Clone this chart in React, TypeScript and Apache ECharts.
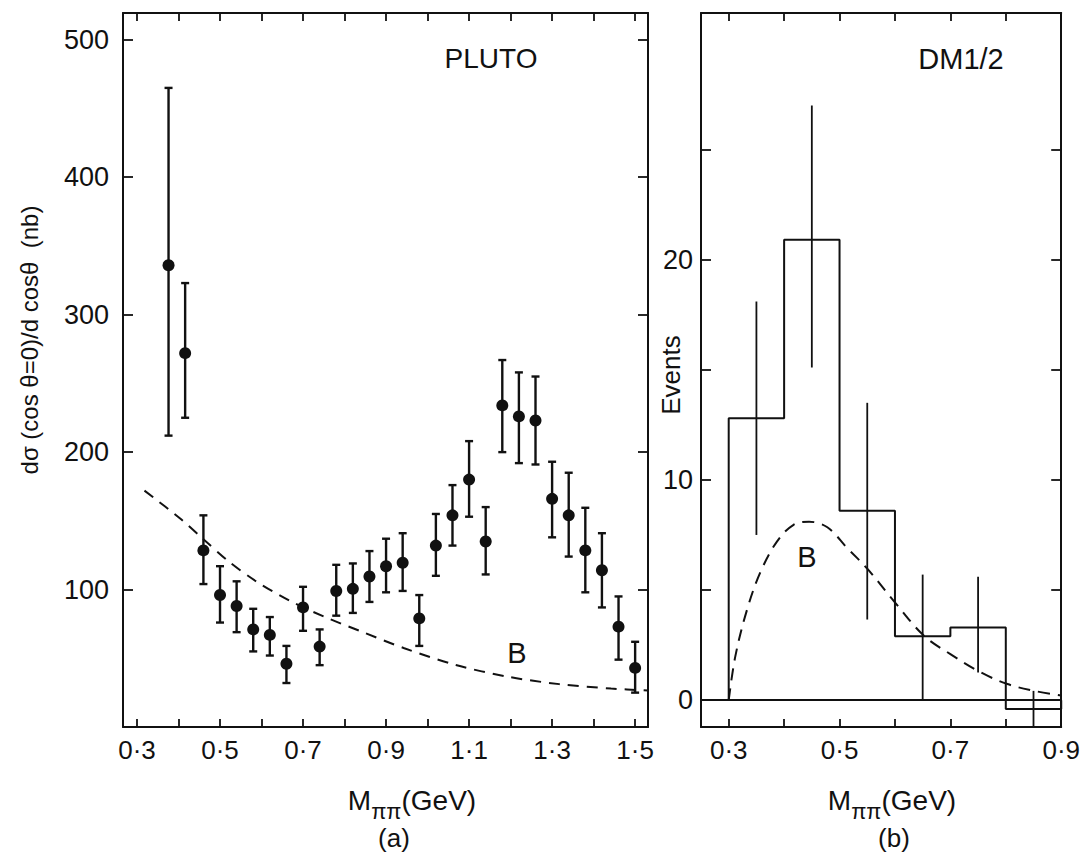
import React, { useEffect, useRef } from "react";
import * as echarts from "echarts";

// ---------- Data ----------
// Panel (a): PLUTO
const plutoMass = [0.376, 0.416, 0.46, 0.5, 0.54, 0.58, 0.62, 0.66, 0.7, 0.74, 0.78, 0.82, 0.86, 0.9, 0.94, 0.98, 1.02, 1.06, 1.1, 1.14, 1.18, 1.22, 1.26, 1.3, 1.34, 1.38, 1.42, 1.46, 1.5];
const plutoValue = [336, 272, 128.5, 96, 88, 71, 67, 46, 87, 58.5, 99, 100.5, 109.5, 117, 119.5, 79, 132, 154, 180, 135, 234, 226, 223, 166, 154, 128.5, 114, 73, 43];
const plutoLow = [212, 225, 104, 76, 69, 55, 52, 32, 70, 45, 81, 83, 91, 98, 99, 59, 110, 132, 153, 111, 200, 192, 191, 138, 124, 98, 87, 49, 25];
const plutoHigh = [465, 323, 154, 117, 106, 86, 80, 59, 102, 71, 118, 119, 128, 137, 141, 96, 155, 176, 208, 160, 267, 258, 255, 193, 185, 159.5, 141, 95, 62];
const plutoBgMass = [0.318, 0.404, 0.46, 0.52, 0.587, 0.67, 0.753, 0.836, 0.944, 1.068, 1.193, 1.317, 1.442, 1.531];
const plutoBgValue = [172, 151.7, 136.6, 120.7, 106, 91.5, 80, 70, 57.3, 45.1, 36.6, 31.2, 28, 26.5];
const plutoXTicks = [0.3, 0.4, 0.5, 0.6, 0.7, 0.8, 0.9, 1.0, 1.1, 1.2, 1.3, 1.4, 1.5];
const plutoXLabels = [0.3, 0.5, 0.7, 0.9, 1.1, 1.3, 1.5];
const plutoYTicks = [100, 200, 300, 400, 500];

// Panel (b): DM1/2
const dmBinEdges = [0.3, 0.4, 0.5, 0.6, 0.7, 0.8, 0.9];
const dmCounts = [12.8, 20.9, 8.6, 2.9, 3.3, -0.4];
const dmErrMass = [0.35, 0.45, 0.55, 0.65, 0.75, 0.85];
const dmErrLow = [7.5, 15.1, 3.66, 0, 1.26, -1.22];
const dmErrHigh = [18.1, 27.0, 13.5, 5.7, 5.6, 0.42];
const dmBgMass = [0.3, 0.312, 0.333, 0.357, 0.387, 0.417, 0.445, 0.478, 0.514, 0.55, 0.598, 0.652, 0.7, 0.755, 0.803, 0.851, 0.9];
const dmBgValue = [0, 2.0, 4.1, 5.8, 7.2, 7.96, 8.1, 7.85, 6.9, 5.97, 4.5, 2.93, 2.09, 1.26, 0.73, 0.42, 0.21];
const dmXTicks = [0.3, 0.4, 0.5, 0.6, 0.7, 0.8, 0.9];
const dmXLabels = [0.3, 0.5, 0.7, 0.9];
const dmYTicks = [0, 5, 10, 15, 20, 25];
const dmYLabels = [0, 10, 20];

// ---------- Styling ----------
const INK = "#111111";
const FONT = "'Liberation Sans', Arial, sans-serif";
const dotFmt = (v: number) => v.toFixed(1).replace(".", "\u00b7");

function axisBase(ticks: number[], tickLen: number) {
  return {
    axisLine: { show: true, onZero: false, lineStyle: { color: INK, width: 2 } },
    axisTick: { show: true, inside: true, length: tickLen, customValues: ticks, lineStyle: { color: INK, width: 1.8 } },
    splitLine: { show: false },
  };
}

export default function App() {
  const ref = useRef<HTMLDivElement>(null);

  useEffect(() => {
    if (!ref.current) return;
    const chart = echarts.init(ref.current, null, { renderer: "svg" });

    const plutoData = plutoMass.map((m, i) => [m, plutoValue[i], plutoLow[i], plutoHigh[i]]);
    const dmErrData = dmErrMass.map((m, i) => [m, dmErrLow[i], dmErrHigh[i]]);
    const histPts: number[][] = [[dmBinEdges[0], 0]];
    dmCounts.forEach((c, i) => {
      histPts.push([dmBinEdges[i], c]);
      histPts.push([dmBinEdges[i + 1], c]);
    });
    histPts.push([dmBinEdges[dmBinEdges.length - 1], 0]);

    const labelStyle = { color: INK, fontFamily: FONT };
    const subRich = {
      m: { fontSize: 28, fontFamily: FONT, fill: INK, color: INK, lineHeight: 44 },
      s: { fontSize: 22, fontFamily: FONT, fill: INK, color: INK, lineHeight: 22, verticalAlign: "bottom" },
    };

    const option: any = {
      animation: false,
      backgroundColor: "#ffffff",
      grid: [
        { left: 123, top: 13, width: 525, height: 714 },
        { left: 701, top: 13, width: 361, height: 714 },
      ],
      xAxis: [
        {
          type: "value", gridIndex: 0, position: "bottom", min: 0.2663, max: 1.531,
          ...axisBase(plutoXTicks, 8),
          axisLabel: { ...labelStyle, fontSize: 26, margin: 10, customValues: plutoXLabels, formatter: dotFmt },
        },
        {
          type: "value", gridIndex: 0, position: "top", min: 0.2663, max: 1.531,
          ...axisBase(plutoXTicks, 8), axisLabel: { show: false },
        },
        {
          type: "value", gridIndex: 1, position: "bottom", min: 0.25, max: 0.9,
          ...axisBase(dmXTicks, 8),
          axisLabel: { ...labelStyle, fontSize: 26, margin: 10, customValues: dmXLabels, formatter: dotFmt },
        },
        {
          type: "value", gridIndex: 1, position: "top", min: 0.25, max: 0.9,
          ...axisBase(dmXTicks, 8), axisLabel: { show: false },
        },
      ],
      yAxis: [
        {
          type: "value", gridIndex: 0, position: "left", min: 0, max: 519.5,
          ...axisBase(plutoYTicks, 10),
          axisLabel: { ...labelStyle, fontSize: 27, margin: 14, customValues: plutoYTicks },
        },
        {
          type: "value", gridIndex: 0, position: "right", min: 0, max: 519.5,
          ...axisBase(plutoYTicks, 10), axisLabel: { show: false },
        },
        {
          type: "value", gridIndex: 1, position: "left", min: -1.22, max: 31.2,
          ...axisBase(dmYTicks, 10),
          axisLabel: { ...labelStyle, fontSize: 27, margin: 8, customValues: dmYLabels },
        },
        {
          type: "value", gridIndex: 1, position: "right", min: -1.22, max: 31.2,
          ...axisBase(dmYTicks, 10), axisLabel: { show: false },
        },
      ],
      series: [
        {
          type: "custom",
          name: "PLUTO",
          xAxisIndex: 0,
          yAxisIndex: 0,
          data: plutoData,
          encode: { x: 0, y: [1, 2, 3] },
          renderItem: (_params: any, api: any) => {
            const x = api.value(0);
            const p = api.coord([x, api.value(1)]);
            const lo = api.coord([x, api.value(2)]);
            const hi = api.coord([x, api.value(3)]);
            const cap = 4;
            const st = { stroke: INK, lineWidth: 2.4 };
            return {
              type: "group",
              children: [
                { type: "line", shape: { x1: lo[0], y1: lo[1], x2: hi[0], y2: hi[1] }, style: st },
                { type: "line", shape: { x1: lo[0] - cap, y1: lo[1], x2: lo[0] + cap, y2: lo[1] }, style: st },
                { type: "line", shape: { x1: hi[0] - cap, y1: hi[1], x2: hi[0] + cap, y2: hi[1] }, style: st },
                { type: "circle", shape: { cx: p[0], cy: p[1], r: 6 }, style: { fill: INK } },
              ],
            };
          },
        },
        {
          type: "line",
          name: "B (a)",
          xAxisIndex: 0,
          yAxisIndex: 0,
          data: plutoBgMass.map((m, i) => [m, plutoBgValue[i]]),
          smooth: 0.3,
          showSymbol: false,
          symbol: "none",
          lineStyle: { color: INK, width: 2, type: [11, 8] },
        },
        {
          type: "line",
          name: "DM1/2",
          xAxisIndex: 2,
          yAxisIndex: 2,
          data: histPts,
          showSymbol: false,
          symbol: "none",
          lineStyle: { color: INK, width: 2 },
          markLine: {
            silent: true,
            symbol: ["none", "none"],
            label: { show: false },
            lineStyle: { color: INK, width: 2, type: "solid" },
            data: [{ yAxis: 0 }],
          },
        },
        {
          type: "custom",
          name: "DM errors",
          xAxisIndex: 2,
          yAxisIndex: 2,
          data: dmErrData,
          encode: { x: 0, y: [1, 2] },
          renderItem: (_params: any, api: any) => {
            const x = api.value(0);
            const lo = api.coord([x, api.value(1)]);
            const hi = api.coord([x, api.value(2)]);
            return {
              type: "line",
              shape: { x1: lo[0], y1: lo[1], x2: hi[0], y2: hi[1] },
              style: { stroke: INK, lineWidth: 1.8 },
            };
          },
        },
        {
          type: "line",
          name: "B (b)",
          xAxisIndex: 2,
          yAxisIndex: 2,
          data: dmBgMass.map((m, i) => [m, dmBgValue[i]]),
          smooth: 0.35,
          showSymbol: false,
          symbol: "none",
          lineStyle: { color: INK, width: 2, type: [12, 8] },
        },
      ],
      graphic: [
        {
          type: "text", x: 29, y: 340, rotation: Math.PI / 2,
          style: { text: "d\u03c3 (cos \u03b8=0)/d cos\u03b8  (nb)", fill: INK, font: `24px ${FONT}`, align: "center", verticalAlign: "middle" },
        },
        {
          type: "text", x: 671, y: 375, rotation: Math.PI / 2,
          style: { text: "Events", fill: INK, font: `26px ${FONT}`, align: "center", verticalAlign: "middle" },
        },
        {
          type: "text", x: 491, y: 58,
          style: { text: "PLUTO", fill: INK, font: `28px ${FONT}`, align: "center", verticalAlign: "middle" },
        },
        {
          type: "text", x: 961, y: 59,
          style: { text: "DM1/2", fill: INK, font: `29px ${FONT}`, align: "center", verticalAlign: "middle" },
        },
        {
          type: "text", x: 517, y: 653,
          style: { text: "B", fill: INK, font: `29px ${FONT}`, align: "center", verticalAlign: "middle" },
        },
        {
          type: "text", x: 807, y: 557,
          style: { text: "B", fill: INK, font: `29px ${FONT}`, align: "center", verticalAlign: "middle" },
        },
        {
          type: "text", x: 412, y: 800,
          style: { text: "{m|M}{s|\u03c0\u03c0}{m|(GeV)}", align: "center", verticalAlign: "middle", rich: subRich },
        },
        {
          type: "text", x: 394, y: 838,
          style: { text: "(a)", fill: INK, font: `26px ${FONT}`, align: "center", verticalAlign: "middle" },
        },
        {
          type: "text", x: 892, y: 800,
          style: { text: "{m|M}{s|\u03c0\u03c0}{m|(GeV)}", align: "center", verticalAlign: "middle", rich: subRich },
        },
        {
          type: "text", x: 894, y: 838,
          style: { text: "(b)", fill: INK, font: `26px ${FONT}`, align: "center", verticalAlign: "middle" },
        },
      ],
    };

    chart.setOption(option);
    return () => chart.dispose();
  }, []);

  return (
    <div
      ref={ref}
      style={{ position: "fixed", left: 0, top: 0, width: 1083, height: 859, background: "#ffffff" }}
    />
  );
}
